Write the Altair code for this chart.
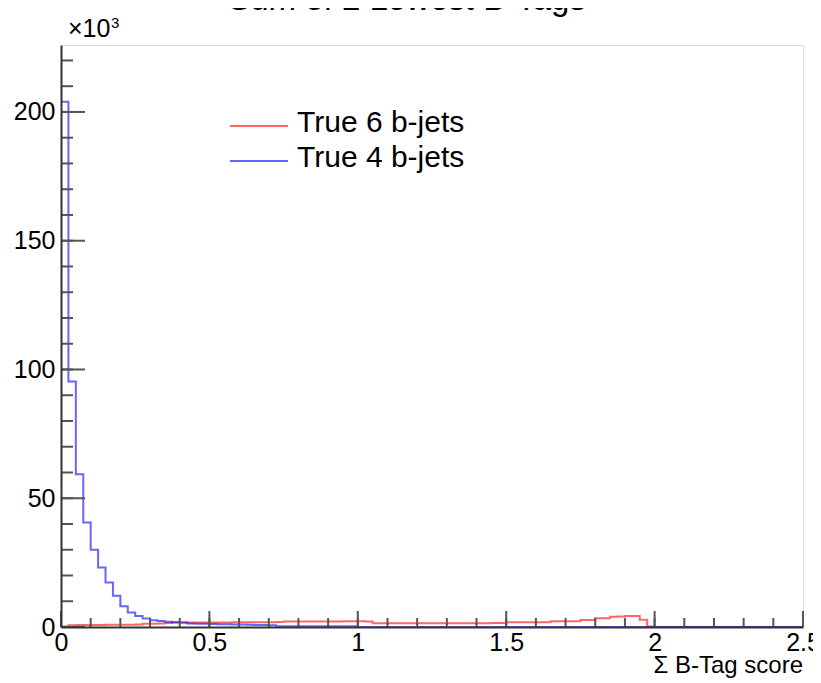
import altair as alt
import pandas as pd

# ---------------- data ----------------
BIN_W = 0.025
N_BINS = 100

TRUE6 = [0.2, 0.7, 0.8, 0.8, 0.8, 0.8, 0.9, 0.9, 0.9, 0.9,
         1.0, 1.3, 1.3, 1.4, 1.6, 1.7, 1.7, 1.7, 1.7, 1.7,
         1.7, 1.7, 1.7, 1.8, 1.8, 1.8, 1.8, 1.8, 1.8, 1.9,
         2.1, 2.1, 2.1, 2.1, 2.1, 2.1, 2.1, 2.1, 2.2, 2.2,
         2.2, 2.1, 1.5, 1.5, 1.5, 1.5, 1.5, 1.5, 1.5, 1.5,
         1.5, 1.5, 1.5, 1.5, 1.5, 1.5, 1.5, 1.5, 1.6, 1.6,
         1.8, 1.8, 1.8, 1.8, 1.8, 1.8, 2.2, 2.2, 2.2, 2.2,
         2.7, 2.7, 3.4, 3.4, 4.0, 4.1, 4.3, 4.3, 2.8, 0.2,
         0, 0, 0, 0, 0, 0, 0, 0, 0, 0,
         0, 0, 0, 0, 0, 0, 0, 0, 0, 0]

TRUE4 = [204.0, 95.3, 59.3, 40.6, 30.0, 23.1, 17.3, 12.1, 8.1, 5.6,
         4.3, 3.3, 2.6, 2.3, 2.0, 1.8, 1.7, 1.4, 1.3, 1.3,
         1.2, 1.1, 1.1, 1.0, 1.0, 0.9, 0.8, 0.8, 0.7, 0.3,
         0.3, 0.3, 0.3, 0.3, 0.3, 0.3, 0.3, 0.3, 0.3, 0.3,
         0, 0, 0, 0, 0, 0, 0, 0, 0, 0,
         0, 0, 0, 0, 0, 0, 0, 0, 0, 0,
         0, 0, 0, 0, 0, 0, 0, 0, 0, 0,
         0, 0, 0, 0, 0, 0, 0, 0, 0, 0,
         0, 0, 0, 0, 0, 0, 0, 0, 0, 0,
         0, 0, 0, 0, 0, 0, 0, 0, 0, 0]

SERIES = ["True 6 b-jets", "True 4 b-jets"]
COLORS = ["#ff0000", "#0000ff"]

X_LABELS = [0, 0.5, 1, 1.5, 2, 2.5]
X_MINOR = [0.0, 0.1, 0.2, 0.3, 0.4, 0.5, 0.6, 0.7, 0.8, 0.9, 1.0, 1.1, 1.2,
           1.3, 1.4, 1.5, 1.6, 1.7, 1.8, 1.9, 2.0, 2.1, 2.2, 2.3, 2.4, 2.5]
Y_LABELS = [0, 50, 100, 150, 200]
Y_MINOR = [0, 10, 20, 30, 40, 50, 60, 70, 80, 90, 100, 110, 120, 130, 140,
           150, 160, 170, 180, 190, 200, 210, 220]

TITLE = "Sum of 2 Lowest B-Tags"
X_TITLE = "\u03a3 B-Tag score"
Y_MULT = "\u00d710"
Y_EXP = "3"

X_DOMAIN = [0, 2.5]
Y_DOMAIN = [0, 226]

# ---------------- layout ----------------
W, H = 742, 582
FONT = "Liberation Sans"

rows = []
for name, vals in zip(SERIES, [TRUE6, TRUE4]):
    for i, v in enumerate(vals):
        rows.append({"series": name, "x": i * BIN_W, "y": v})
    rows.append({"series": name, "x": N_BINS * BIN_W, "y": vals[-1]})
hist = pd.DataFrame(rows)

xs = alt.Scale(domain=X_DOMAIN, nice=False, zero=False)
ys = alt.Scale(domain=Y_DOMAIN, nice=False)

x_axis = alt.Axis(values=X_LABELS, format="~g", ticks=False, grid=False,
                  domainColor="#333333", domainWidth=2, labelFontSize=25,
                  labelFont=FONT, labelColor="black", labelPadding=3,
                  labelFlush=False, labelOverlap=False, title=None, zindex=1)
y_axis = alt.Axis(values=Y_LABELS, format="d", ticks=False, grid=False,
                  domainColor="#333333", domainWidth=2, labelFontSize=25,
                  labelFont=FONT, labelColor="black", labelPadding=6,
                  labelOverlap=False, title=None, zindex=1)

lines = []
for name, col in zip(SERIES, COLORS):
    lines.append(
        alt.Chart(hist[hist.series == name]).mark_line(
            interpolate="step-after", color=col, strokeWidth=2, strokeOpacity=0.6
        ).encode(
            x=alt.X("x:Q", scale=xs, axis=x_axis),
            y=alt.Y("y:Q", scale=ys, axis=y_axis),
        )
    )

tick_col = "#555555"
xminor = alt.Chart(pd.DataFrame({"v": X_MINOR})).mark_rule(color=tick_col, strokeWidth=2).encode(
    x=alt.X("v:Q", scale=xs), y=alt.value(H), y2=alt.value(H - 9))
xmajor = alt.Chart(pd.DataFrame({"v": X_LABELS})).mark_rule(color=tick_col, strokeWidth=2).encode(
    x=alt.X("v:Q", scale=xs), y=alt.value(H), y2=alt.value(H - 16))
yminor = alt.Chart(pd.DataFrame({"v": Y_MINOR})).mark_rule(color=tick_col, strokeWidth=2).encode(
    y=alt.Y("v:Q", scale=ys), x=alt.value(0), x2=alt.value(12))
ymajor = alt.Chart(pd.DataFrame({"v": Y_LABELS})).mark_rule(color=tick_col, strokeWidth=2).encode(
    y=alt.Y("v:Q", scale=ys), x=alt.value(0), x2=alt.value(24))

def text_layer(txt, x, y, size, align="left", baseline="alphabetic"):
    return alt.Chart(pd.DataFrame({"t": [txt]})).mark_text(
        font=FONT, fontSize=size, align=align, baseline=baseline, color="black"
    ).encode(text="t:N", x=alt.value(x), y=alt.value(y))

title = text_layer(TITLE, 346, -35, 33, align="center")
mult = text_layer(Y_MULT, 7, -8, 25)
expo = text_layer(Y_EXP, 50, -17, 15)
xtitle = text_layer(X_TITLE, W, 628, 24, align="right")

legend = []
for i, (name, col) in enumerate(zip(SERIES, COLORS)):
    yy = 81 + 35 * i
    legend.append(
        alt.Chart(pd.DataFrame({"t": [name]})).mark_rule(
            color=col, strokeWidth=2, strokeOpacity=0.6
        ).encode(x=alt.value(169), x2=alt.value(227), y=alt.value(yy))
    )
    legend.append(text_layer(name, 236, yy + 6, 30))

chart = alt.layer(
    *lines, xminor, xmajor, yminor, ymajor, title, mult, expo, xtitle, *legend
).properties(
    width=W, height=H,
    padding={"left": 53, "top": 37, "right": 10, "bottom": 54},
    autosize=alt.AutoSizeParams(type="none"),
).configure_view(
    stroke="#888888", strokeWidth=2
).configure(background="white")

chart.save("out.html", embed_options={"renderer": "svg", "actions": False})
